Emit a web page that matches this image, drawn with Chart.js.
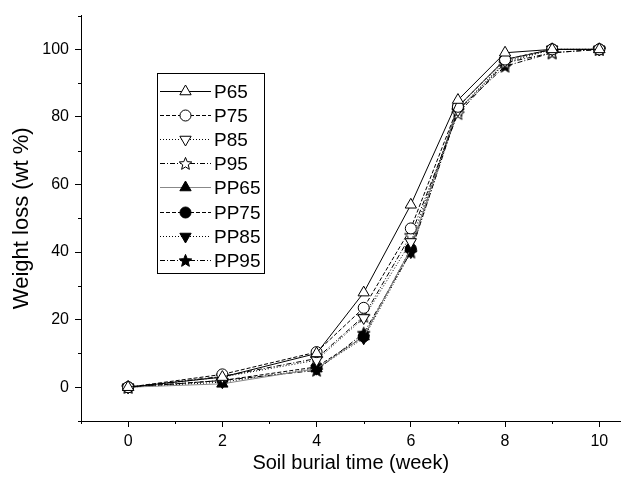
<!DOCTYPE html>
<html>
<head>
<meta charset="utf-8">
<script src="https://cdn.jsdelivr.net/npm/chart.js@4.4.1/dist/chart.umd.min.js"></script>
<style>
  html, body { margin: 0; padding: 0; background: #fff; }
</style>
</head>
<body>
<canvas id="lossChart" width="628" height="481"></canvas>
<script>
// soil burial weeks
const weeks = [0, 2, 4, 5, 6, 7, 8, 9, 10];

// weight loss (wt %) per sample
const p65  = [0, 3.0, 10.0, 28.0, 54.0, 85.0, 99.0, 100, 100];
const p75  = [0, 3.8, 10.4, 23.5, 47.0, 83.0, 97.0, 100, 100];
const p85  = [0, 3.0, 8.0, 20.5, 43.0, 82.0, 96.5, 100, 100];
const p95  = [0, 3.2, 8.5, 21.0, 45.0, 81.0, 96.0, 99.0, 100];
const pp65 = [0, 1.0, 5.5, 15.0, 41.0, 83.0, 97.0, 100, 100];
const pp75 = [0, 2.0, 6.0, 15.0, 41.0, 83.0, 97.0, 100, 100];
const pp85 = [0, 1.5, 5.5, 14.5, 40.0, 82.0, 96.0, 100, 100];
const pp95 = [0, 2.0, 5.0, 16.0, 40.0, 82.0, 95.0, 99.0, 100];

const seriesNames = ['P65', 'P75', 'P85', 'P95', 'PP65', 'PP75', 'PP85', 'PP95'];
const xTickLabels = [0, 2, 4, 6, 8, 10];
const yTickLabels = [0, 20, 40, 60, 80, 100];

const FONT = "'Liberation Sans', Arial, sans-serif";

function makeStar(filled) {
    const c = document.createElement('canvas');
    c.width = 15;
    c.height = 15;
    const g = c.getContext('2d');
    g.beginPath();
    for (let k = 0; k < 10; k++) {
        const r = k % 2 ? 2.9 : 6.6;
        const a = -Math.PI / 2 + k * Math.PI / 5;
        g.lineTo(7.5 + r * Math.cos(a), 8 + r * Math.sin(a));
    }
    g.closePath();
    g.fillStyle = filled ? '#000' : '#fff';
    g.fill();
    g.lineWidth = 1;
    g.strokeStyle = '#000';
    g.stroke();
    return c;
}

const openStar = makeStar(false);
const solidStar = makeStar(true);

const dashes = {
    solid: [],
    dash: [4, 2],
    dot: [1, 2],
    dashDot: [5, 2, 1, 2]
};

function series(label, values, style, dash, fill, line, rotation, radius) {
    return {
        label: label,
        data: weeks.map((w, i) => ({ x: w, y: values[i] })),
        borderColor: line,
        borderWidth: 1,
        borderDash: dash,
        backgroundColor: fill,
        pointStyle: style,
        pointRotation: rotation,
        pointRadius: radius,
        pointBorderColor: '#000',
        pointBackgroundColor: fill,
        pointBorderWidth: 1,
        tension: 0,
        fill: false
    };
}

const datasets = [
    series(seriesNames[0], p65, 'triangle', dashes.solid, '#fff', '#000', 0, 6.5),
    series(seriesNames[1], p75, 'circle', dashes.dash, '#fff', '#000', 0, 5.5),
    series(seriesNames[2], p85, 'triangle', dashes.dot, '#fff', '#000', 180, 6.5),
    series(seriesNames[3], p95, openStar, dashes.dashDot, '#fff', '#000', 0, 6),
    series(seriesNames[4], pp65, 'triangle', dashes.solid, '#000', '#888', 0, 6.5),
    series(seriesNames[5], pp75, 'circle', dashes.dash, '#000', '#000', 0, 5.5),
    series(seriesNames[6], pp85, 'triangle', dashes.dot, '#000', '#000', 180, 6.5),
    series(seriesNames[7], pp95, solidStar, dashes.dashDot, '#000', '#000', 0, 6)
];

// short minor ticks on both axes
const minorTicks = {
    id: 'minorTicks',
    afterDraw(chart) {
        const ctx = chart.ctx;
        const xs = chart.scales.x;
        const ys = chart.scales.y;
        ctx.save();
        ctx.strokeStyle = '#000';
        ctx.lineWidth = 1;
        ctx.beginPath();
        xs.ticks.forEach(t => {
            if (xTickLabels.includes(t.value)) return;
            const px = Math.round(xs.getPixelForValue(t.value)) + 0.5;
            ctx.moveTo(px, xs.top);
            ctx.lineTo(px, xs.top + 3);
        });
        ys.ticks.forEach(t => {
            if (yTickLabels.includes(t.value)) return;
            const py = Math.round(ys.getPixelForValue(t.value)) + 0.5;
            ctx.moveTo(ys.right - 3, py);
            ctx.lineTo(ys.right, py);
        });
        ctx.stroke();
        ctx.restore();
    }
};

// boxed legend with line style + marker
const boxLegend = {
    id: 'boxLegend',
    afterDraw(chart) {
        const ctx = chart.ctx;
        const left = 157, top = 73, right = 264, bottom = 273;
        ctx.save();
        ctx.fillStyle = '#fff';
        ctx.fillRect(left, top, right - left, bottom - top);
        ctx.strokeStyle = '#000';
        ctx.lineWidth = 1;
        ctx.strokeRect(left + 0.5, top + 0.5, right - left, bottom - top);
        chart.data.datasets.forEach((ds, i) => {
            const y = Math.round(91 + i * 24.1) + 0.5;
            ctx.strokeStyle = ds.borderColor;
            ctx.setLineDash(ds.borderDash);
            ctx.beginPath();
            ctx.moveTo(160, y);
            ctx.lineTo(211, y);
            ctx.stroke();
            ctx.setLineDash([]);
            ctx.strokeStyle = '#000';
            ctx.fillStyle = ds.pointBackgroundColor;
            Chart.helpers.drawPoint(ctx, {
                pointStyle: ds.pointStyle,
                rotation: ds.pointRotation,
                radius: ds.pointRadius,
                borderWidth: 1
            }, 185.5, y);
            ctx.fillStyle = '#000';
            ctx.font = '19px ' + FONT;
            ctx.textBaseline = 'middle';
            ctx.textAlign = 'left';
            ctx.fillText(ds.label, 214, y + 1);
        });
        ctx.restore();
    }
};

new Chart(document.getElementById('lossChart'), {
    type: 'line',
    data: { datasets: datasets },
    options: {
        responsive: false,
        animation: false,
        layout: { padding: { top: 14, right: 0, left: 0, bottom: 0 } },
        plugins: {
            legend: { display: false },
            tooltip: { enabled: false }
        },
        scales: {
            x: {
                type: 'linear',
                min: -1,
                max: 10.45,
                afterBuildTicks: s => {
                    s.ticks = [-1, 0, 1, 2, 3, 4, 5, 6, 7, 8, 9, 10].map(v => ({ value: v }));
                },
                afterFit: s => { s.height = 60; },
                ticks: {
                    autoSkip: false,
                    maxRotation: 0,
                    padding: 5,
                    color: '#000',
                    font: { family: FONT, size: 16 },
                    callback: v => xTickLabels.includes(v) ? String(v) : ''
                },
                grid: {
                    drawOnChartArea: false,
                    drawTicks: true,
                    tickLength: 6,
                    color: c => (c.tick && xTickLabels.includes(c.tick.value)) ? '#000' : 'rgba(0,0,0,0)'
                },
                border: { display: true, color: '#000', width: 1 },
                title: {
                    display: true,
                    text: 'Soil burial time (week)',
                    color: '#000',
                    font: { family: FONT, size: 20 },
                    padding: { top: 0, bottom: 6 }
                }
            },
            y: {
                type: 'linear',
                min: -10,
                max: 110,
                afterBuildTicks: s => {
                    s.ticks = [-10, 0, 10, 20, 30, 40, 50, 60, 70, 80, 90, 100, 110].map(v => ({ value: v }));
                },
                afterFit: s => { s.width = 81; },
                ticks: {
                    autoSkip: false,
                    padding: 6,
                    color: '#000',
                    font: { family: FONT, size: 16 },
                    callback: v => yTickLabels.includes(v) ? String(v) : ''
                },
                grid: {
                    drawOnChartArea: false,
                    drawTicks: true,
                    tickLength: 6,
                    color: c => (c.tick && yTickLabels.includes(c.tick.value)) ? '#000' : 'rgba(0,0,0,0)'
                },
                border: { display: true, color: '#000', width: 1 },
                title: {
                    display: true,
                    text: 'Weight loss (wt %)',
                    color: '#000',
                    font: { family: FONT, size: 22 },
                    padding: { top: 9, bottom: 0 }
                }
            }
        }
    },
    plugins: [minorTicks, boxLegend]
});
</script>
</body>
</html>
